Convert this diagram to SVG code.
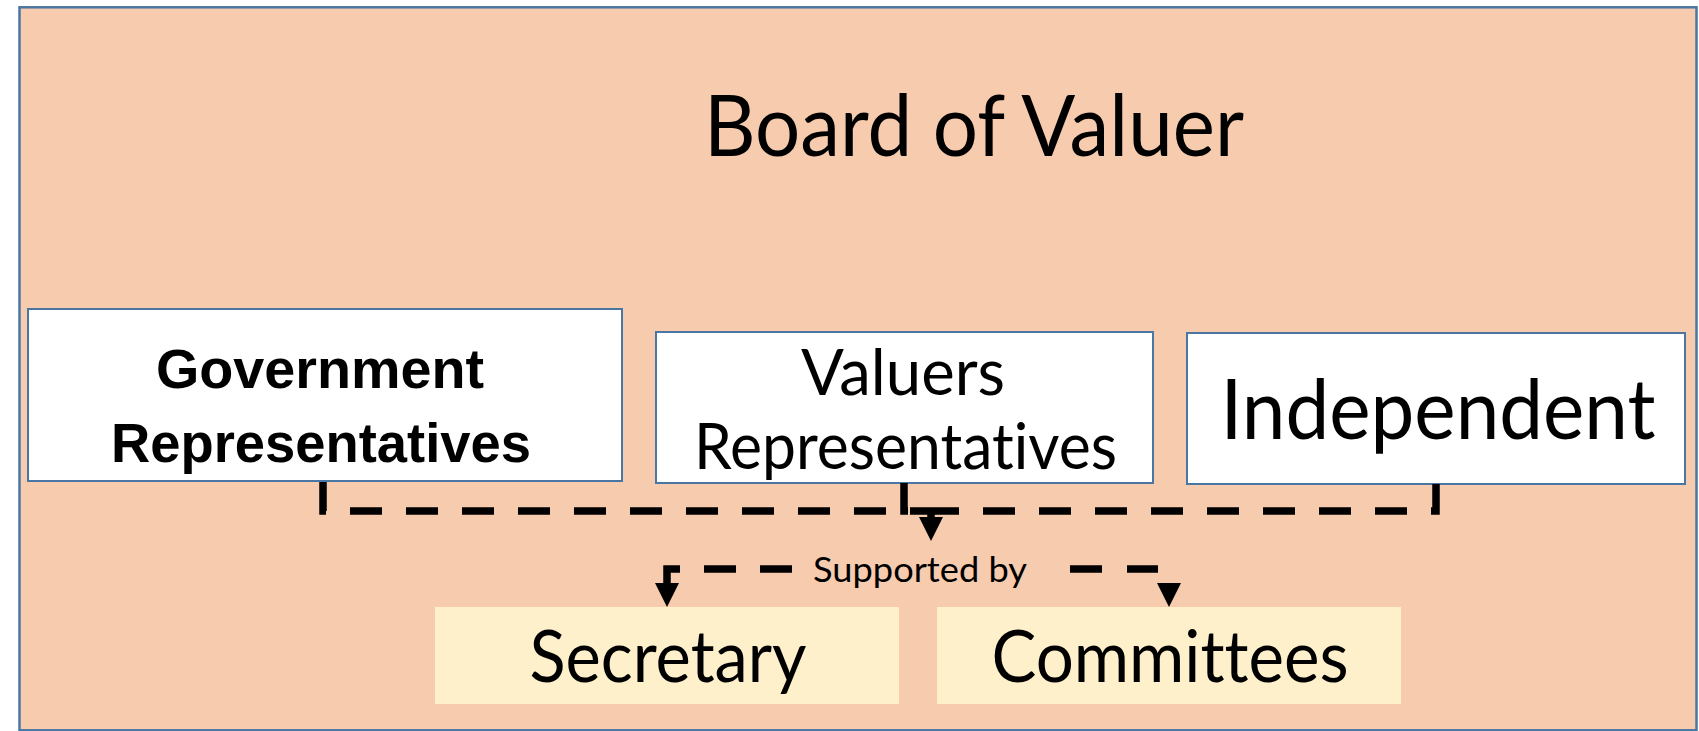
<svg xmlns="http://www.w3.org/2000/svg" xmlns:xlink="http://www.w3.org/1999/xlink" width="1699" height="731" viewBox="0 0 1699 731">
  <style>
    .frame { fill: #f7cbae; stroke: #4a76a3; stroke-width: 2.5; }
    .member { fill: #ffffff; stroke: #4a76a3; stroke-width: 2; }
    .support { fill: #fff0cc; stroke: none; }
    .geo { font-family: Lato, "Noto Sans", "DejaVu Sans", sans-serif; fill: #000; text-anchor: middle; font-variant-ligatures: none; }
    .bold { font-family: "Liberation Sans", Arial, sans-serif; font-weight: 700; fill: #000; text-anchor: middle; }
    .dash { fill: none; stroke: #000; stroke-width: 7.5; stroke-dasharray: 32 24; stroke-linejoin: miter; }
    .solid { fill: none; stroke: #000; stroke-width: 7.5; stroke-linejoin: miter; }
    .ah { fill: #000; }
  </style>
  <defs>
    <path id="ah" d="M-12,0 H12 L0,24 Z"/>
  </defs>

  <g id="board">
    <rect class="frame" x="19.5" y="7.3" width="1677" height="723"/>
    <text class="geo" x="974" y="156" font-size="86" textLength="540" lengthAdjust="spacingAndGlyphs">Board of Valuer</text>
  </g>

  <g id="government">
    <rect class="member" x="28" y="309" width="594" height="172"/>
    <text class="bold" x="320" y="388" font-size="55" textLength="328" lengthAdjust="spacingAndGlyphs">Government</text>
    <text class="bold" x="321" y="462" font-size="55" textLength="420" lengthAdjust="spacingAndGlyphs">Representatives</text>
  </g>

  <g id="valuers">
    <rect class="member" x="656" y="332" width="497" height="151"/>
    <text class="geo" x="903" y="395" font-size="63" textLength="204" lengthAdjust="spacingAndGlyphs">Valuers</text>
    <text class="geo" x="905.5" y="469" font-size="63" textLength="423" lengthAdjust="spacingAndGlyphs">Representatives</text>
  </g>

  <g id="independent">
    <rect class="member" x="1187" y="333" width="498" height="151"/>
    <text class="geo" x="1438" y="439" font-size="84" textLength="435" lengthAdjust="spacingAndGlyphs">Independent</text>
  </g>

  <g id="secretary">
    <rect class="support" x="435" y="607" width="464" height="97"/>
    <text class="geo" x="668" y="682" font-size="72" textLength="277" lengthAdjust="spacingAndGlyphs">Secretary</text>
  </g>

  <g id="committees">
    <rect class="support" x="937" y="607" width="464" height="97"/>
    <text class="geo" x="1170" y="682" font-size="72" textLength="357" lengthAdjust="spacingAndGlyphs">Committees</text>
  </g>

  <g id="connectors">
    <path class="dash" d="M323,482 V511 H931"/>
    <path class="dash" d="M1436,484 V511 H931"/>
    <path class="dash" d="M904,483 V511 H931"/>
    <path class="solid" d="M931,511 V518"/>
    <use xlink:href="#ah" class="ah" x="931" y="517"/>
    <path class="solid" d="M680,569 H667 V584"/>
    <path class="solid" d="M704,569 H736 M760,569 H792 M1070,569 H1102 M1127,569 H1158"/>
    <use xlink:href="#ah" class="ah" x="667" y="583"/>
    <use xlink:href="#ah" class="ah" x="1169" y="583"/>
    <text class="geo" x="920" y="582" font-size="35" textLength="214" lengthAdjust="spacingAndGlyphs">Supported by</text>
  </g>
</svg>
